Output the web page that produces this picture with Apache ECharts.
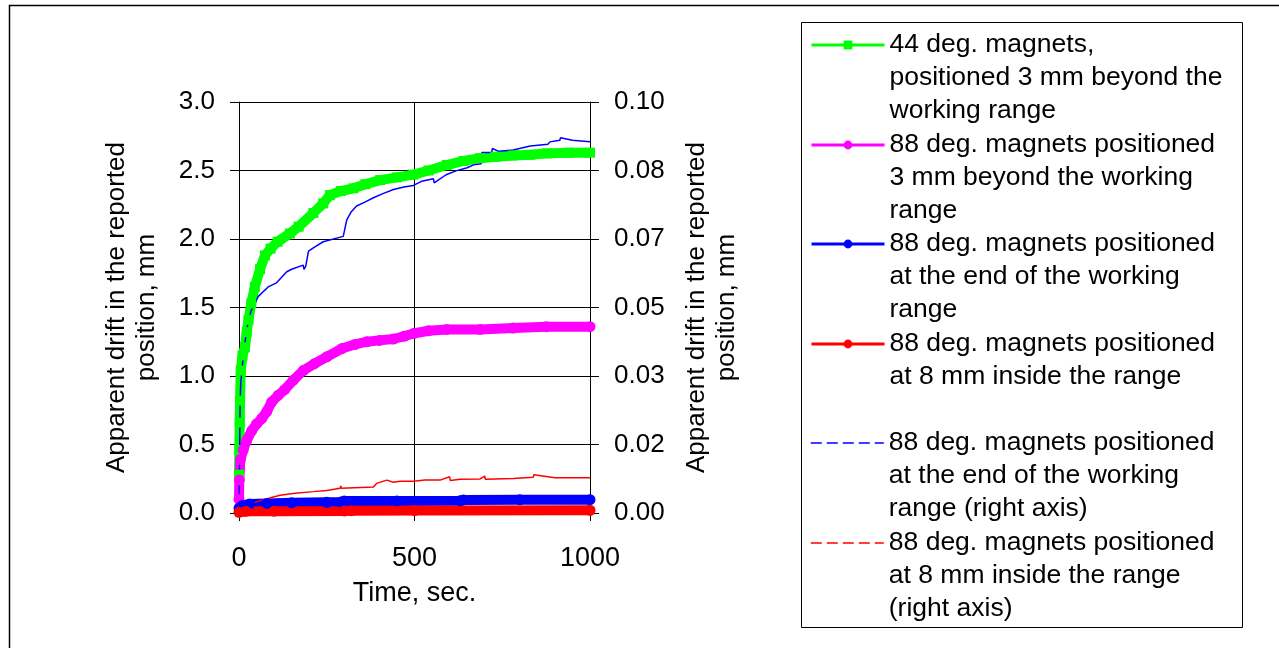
<!DOCTYPE html>
<html>
<head>
<meta charset="utf-8">
<script src="https://cdn.jsdelivr.net/npm/echarts@6/dist/echarts.min.js"></script>
<style>
html,body{margin:0;padding:0;background:#fff;}
#chart{width:1279px;height:648px;}
</style>
</head>
<body>
<div id="chart"></div>
<script>
// ---- Data (time in seconds, drift in mm) ----
const greenT = [0,1,2,3,5,10,17,22,27,35,45,60,74,90,110,145,170,212,240,259,290,326,360,402,450,497,540,592,640,687,730,781,830,877,940,1000];
const greenV = [0.28,0.46,0.66,0.82,1.04,1.15,1.21,1.32,1.41,1.53,1.65,1.78,1.88,1.93,1.98,2.04,2.09,2.19,2.26,2.32,2.35,2.37,2.40,2.43,2.45,2.47,2.50,2.54,2.57,2.59,2.60,2.61,2.615,2.625,2.63,2.63];

const magT = [0,1,4,12,22,36,50,65,79,93,112,130,155,183,215,250,293,330,364,400,440,470,497,540,592,687,781,876,1000];
const magV = [0.10,0.24,0.39,0.46,0.53,0.60,0.65,0.69,0.74,0.81,0.86,0.90,0.97,1.04,1.09,1.14,1.20,1.23,1.25,1.26,1.27,1.29,1.31,1.33,1.34,1.34,1.35,1.36,1.36];

const blueT = [0,10,30,80,150,250,290,300,450,630,640,800,1000];
const blueV = [0.035,0.055,0.065,0.07,0.075,0.078,0.08,0.087,0.088,0.09,0.095,0.097,0.097];

const redT = [0,20,100,300,320,500,1000];
const redV = [0.005,0.012,0.013,0.015,0.017,0.018,0.02];

// right axis series
const blueRT = [0,1,2,3,5,10,14,20,27,35,55,83,107,136,150,183,185,190,198,215,240,297,300,307,320,335,360,383,410,440,470,497,520,554,556,590,620,650,668,690,692,720,722,740,781,830,880,886,914,916,950,1000];
const blueRV = [0,0.0067,0.0167,0.026,0.0317,0.0363,0.0397,0.0433,0.047,0.0493,0.0527,0.055,0.056,0.0587,0.0593,0.0603,0.0593,0.06,0.0637,0.0647,0.066,0.0673,0.0677,0.0713,0.0733,0.0747,0.0757,0.0767,0.0777,0.0787,0.0793,0.0797,0.0807,0.0813,0.0803,0.0823,0.0833,0.084,0.0847,0.085,0.0877,0.0877,0.0887,0.088,0.0883,0.0893,0.0897,0.0903,0.0907,0.0913,0.0907,0.0903];

const redRT = [0,2,10,30,50,69,90,117,160,212,250,288,290,292,383,392,421,440,459,497,530,573,600,602,630,687,700,702,781,838,840,900,1000];
const redRV = [0,0.001,0.0015,0.002,0.0027,0.0032,0.0037,0.0043,0.0048,0.0052,0.0055,0.006,0.0066,0.006,0.0063,0.0072,0.008,0.0075,0.0077,0.0077,0.008,0.008,0.0088,0.0079,0.0082,0.0083,0.009,0.0082,0.0084,0.0087,0.0093,0.0086,0.0086];

const xTicks = [0, 500, 1000];
const leftTicks = [0, 3.0];
const rightTicks = [0, 0.10];

const seriesNames = [
  "44 deg. magnets, positioned 3 mm beyond the working range",
  "88 deg. magnets positioned 3 mm beyond the working range",
  "88 deg. magnets positioned at the end of the working range",
  "88 deg. magnets positioned at 8 mm inside the range",
  "88 deg. magnets positioned at the end of the working range (right axis)",
  "88 deg. magnets positioned at 8 mm inside the range (right axis)"
];
const legendText = [
  "44 deg. magnets,\npositioned 3 mm beyond the\nworking range",
  "88 deg. magnets positioned\n3 mm beyond the working\nrange",
  "88 deg. magnets positioned\nat the end of the working\nrange",
  "88 deg. magnets positioned\nat 8 mm inside the range",
  "88 deg. magnets positioned\nat the end of the working\nrange (right axis)",
  "88 deg. magnets positioned\nat 8 mm inside the range\n(right axis)"
];

// ---- Build ----
const FONT = "'Liberation Sans', Arial, sans-serif";
function pairs(t, v) { return t.map((x, i) => [x, v[i]]); }

const chart = echarts.init(document.getElementById('chart'), null, {renderer: 'canvas'});

const LH = 33;
const legendMid = [45, 145, 244, 344, 443, 543];
const legends = legendText.map((txt, i) => {
  const n = txt.split('\n').length;
  const dashed = i >= 4;
  // leading blank lines so that the first text line sits level with the icon
  const shown = '\n'.repeat(n - 1) + txt;
  return {
    show: true,
    orient: 'vertical',
    left: 810,
    top: legendMid[i] - (2 * n - 1) * LH / 2,
    padding: 0,
    itemWidth: 73,
    itemHeight: 11,
    selectedMode: false,
    data: [seriesNames[i]],
    formatter: () => shown,
    textStyle: {fontFamily: FONT, fontSize: 26.5, color: '#000', lineHeight: LH},
    lineStyle: dashed ? {width: 1.6, type: [11, 5]} : {width: 3},
    itemStyle: dashed ? {opacity: 0} : {}
  };
});

const thick = (name, data, color, symbol) => ({
  name, type: 'line', data, xAxisIndex: 0, yAxisIndex: 0,
  symbol, symbolSize: symbol === 'rect' ? 10 : 11,
  showSymbol: true, clip: false,
  lineStyle: {color, width: 10, join: 'round'},
  itemStyle: {color, borderWidth: 0},
  emphasis: {disabled: true}
});
const thin = (name, data, color) => ({
  name, type: 'line', data, xAxisIndex: 0, yAxisIndex: 1,
  symbol: 'none', showSymbol: false, clip: false,
  lineStyle: {color, width: 1.5, type: 'dashed'},
  itemStyle: {color},
  emphasis: {disabled: true}
});

const axisLabel = (fmt, margin) => ({
  fontFamily: FONT, fontSize: 26, color: '#000', margin, formatter: fmt
});

const option = {
  animation: false,
  backgroundColor: '#fff',
  textStyle: {fontFamily: FONT},
  grid: {left: 239, right: 689, top: 102, bottom: 135, containLabel: false},
  legend: legends,
  xAxis: {
    type: 'value', min: xTicks[0], max: xTicks[2], interval: xTicks[1] - xTicks[0],
    axisLine: {show: true, lineStyle: {color: '#000', width: 1}},
    axisTick: {show: true, inside: false, length: 8, lineStyle: {color: '#000'}},
    splitLine: {show: true, lineStyle: {color: '#000', width: 1}},
    axisLabel: Object.assign(axisLabel(v => String(v), 32), {fontSize: 27}),
    name: 'Time, sec.', nameLocation: 'middle', nameGap: 67,
    nameTextStyle: {fontFamily: FONT, fontSize: 27, color: '#000'}
  },
  yAxis: [{
    type: 'value', position: 'left', min: leftTicks[0], max: leftTicks[1], interval: 0.5,
    axisLine: {show: true, lineStyle: {color: '#000', width: 1}},
    axisTick: {show: true, inside: false, length: 9, lineStyle: {color: '#000'}},
    splitLine: {show: true, lineStyle: {color: '#000', width: 1}},
    axisLabel: axisLabel(v => v.toFixed(1), 24),
    name: 'Apparent drift in the reported\nposition, mm', nameLocation: 'middle', nameGap: 77,
    nameTextStyle: {fontFamily: FONT, fontSize: 26, color: '#000', lineHeight: 30}
  }, {
    type: 'value', position: 'right', min: rightTicks[0], max: rightTicks[1], interval: (rightTicks[1] - rightTicks[0]) / 6,
    axisLine: {show: true, lineStyle: {color: '#000', width: 1}},
    axisTick: {show: true, inside: false, length: 9, lineStyle: {color: '#000'}},
    splitLine: {show: false},
    axisLabel: axisLabel(v => v.toFixed(2), 24),
    name: 'Apparent drift in the reported\nposition, mm', nameLocation: 'middle', nameGap: 92,
    nameTextStyle: {fontFamily: FONT, fontSize: 26, color: '#000', lineHeight: 30}
  }],
  graphic: [
    {type: 'rect', silent: true, z: -10, shape: {x: 9.5, y: 5.5, width: 1300, height: 700},
     style: {fill: 'none', stroke: '#000', lineWidth: 1.5}},
    {type: 'rect', silent: true, z: -10, shape: {x: 801.5, y: 22.5, width: 441, height: 605},
     style: {fill: 'none', stroke: '#000', lineWidth: 1}}
  ],
  series: [
    thick(seriesNames[0], pairs(greenT, greenV), '#00FF00', 'rect'),
    thick(seriesNames[1], pairs(magT, magV), '#FF00FF', 'circle'),
    thick(seriesNames[2], pairs(blueT, blueV), '#0000FF', 'circle'),
    thick(seriesNames[3], pairs(redT, redV), '#FF0000', 'circle'),
    thin(seriesNames[4], pairs(blueRT, blueRV), '#0000FF'),
    thin(seriesNames[5], pairs(redRT, redRV), '#FF0000')
  ]
};
// thin series are drawn solid in the plot (dense data hides dashes), dashed in legend
option.series[4].lineStyle.type = 'solid';
option.series[5].lineStyle.type = 'solid';
chart.setOption(option);
</script>
</body>
</html>
